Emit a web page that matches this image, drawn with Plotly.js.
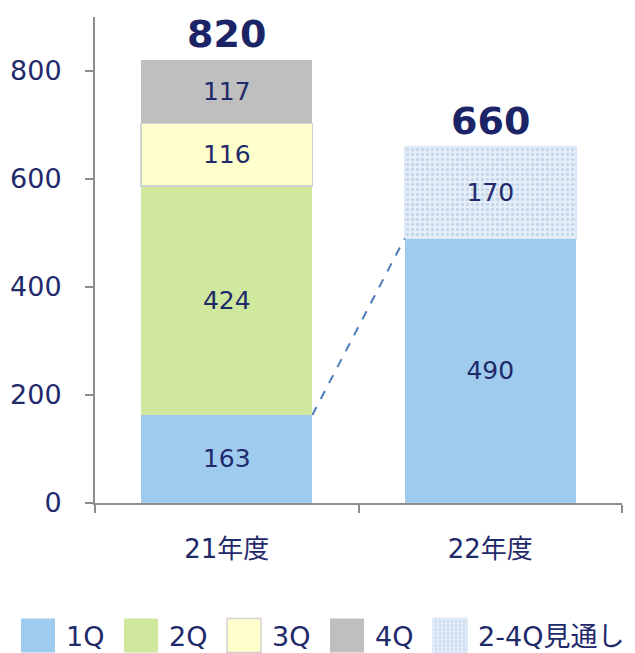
<!DOCTYPE html>
<html>
<head>
<meta charset="utf-8">
<script src="https://cdn.plot.ly/plotly-3.0.1.min.js"></script>
<style>html,body{margin:0;padding:0;background:#fff;}#chart{width:635px;height:653px;}</style>
</head>
<body>
<div id="chart"></div>
<script>
// ---- data ----
const categories = ['21年度', '22年度'];
const q1 = [163, 490];
const q2 = [424, null];
const q3 = [116, null];
const q4 = [117, null];
const outlook = [null, 170];
const totals = [820, 660];
const yTicks = [0, 200, 400, 600, 800];
const seriesNames = ['1Q', '2Q', '3Q', '4Q', '2-4Q見通し'];

const NAVY = '#1f2a6b';
const FONT = '"DejaVu Sans", Verdana, "Noto Sans CJK JP", sans-serif';
const BARW = 0.65;

function barTrace(name, vals, color, extra) {
  return Object.assign({
    type: 'bar', name: name, x: categories, y: vals, width: BARW,
    marker: {color: color, line: {width: 0}},
    text: vals.map(v => v == null ? '' : String(v)),
    textposition: 'inside', insidetextanchor: 'middle', textangle: 0,
    textfont: {family: FONT, size: 25, color: NAVY},
    hoverinfo: 'skip'
  }, extra || {});
}

const traces = [
  barTrace(seriesNames[0], q1, '#9ecbee'),
  barTrace(seriesNames[1], q2, '#cfe89d'),
  barTrace(seriesNames[2], q3, '#ffffcc', {marker: {color: '#ffffcc', line: {width: 1.5, color: '#d2d2d2'}}}),
  barTrace(seriesNames[3], q4, '#bfbfbf'),
  barTrace(seriesNames[4], outlook, '#e4eef9', {marker: {color: '#e4eef9', line: {width: 1.5, color: '#d6e6f6'},
    pattern: {shape: '.', fgcolor: '#c4d6ea', bgcolor: '#e6eff9', size: 5, solidity: 0.35}}})
];

const annotations = categories.map((c, i) => ({
  x: c, y: totals[i], xref: 'x', yref: 'y', text: String(totals[i]),
  showarrow: false, yanchor: 'bottom', yshift: 2,
  font: {family: FONT, size: 38, color: '#1a2466', weight: 'bold'}
}));

const shapes = [{
  type: 'line', xref: 'x', yref: 'y',
  x0: 0 + BARW / 2, y0: q1[0], x1: 1 - BARW / 2, y1: q1[1],
  line: {color: '#4a7ebb', width: 2, dash: 'dash'}
}];

const layout = {
  width: 635, height: 653,
  margin: {l: 95, r: 13, t: 17, b: 150, autoexpand: false},
  paper_bgcolor: '#fff', plot_bgcolor: '#fff',
  barmode: 'stack', bargap: 0.35,
  font: {family: FONT, color: NAVY, size: 26},
  showlegend: true,
  legend: {orientation: 'h', xref: 'container', yref: 'container',
    x: 0.041, xanchor: 'left', y: 0.026, yanchor: 'middle',
    font: {family: FONT, size: 27, color: NAVY}, traceorder: 'normal',
    entrywidth: 58, itemclick: false},
  xaxis: {type: 'category', tickson: 'boundaries', ticks: 'outside', ticklen: 8, tickwidth: 2,
    tickcolor: '#8c8c8c', showline: true, linecolor: '#8c8c8c', linewidth: 2,
    showgrid: false, zeroline: false, ticklabelstandoff: 22,
    tickfont: {family: FONT, size: 26, color: NAVY}, range: [-0.5, 1.5]},
  yaxis: {range: [0, 900], tickvals: yTicks, ticktext: yTicks.map(String),
    ticks: 'outside', ticklen: 8, tickwidth: 2, tickcolor: '#8c8c8c',
    showline: true, linecolor: '#8c8c8c', linewidth: 2, showgrid: false, zeroline: false,
    ticklabelstandoff: 18, tickfont: {family: FONT, size: 27, color: NAVY}},
  annotations: annotations,
  shapes: shapes
};

Plotly.newPlot('chart', traces, layout, {staticPlot: true, displayModeBar: false}).then(gd => {
  // enlarge legend swatches to match the reference's big square keys
  gd.querySelectorAll('.legend .legendpoints path').forEach(p => {
    p.setAttribute('d', 'M9,17H-25V-17H9Z');
  });
  // let the last legend label run past the fixed entry width
  gd.querySelectorAll('.legend [clip-path]').forEach(e => e.removeAttribute('clip-path'));
});
</script>
</body>
</html>
